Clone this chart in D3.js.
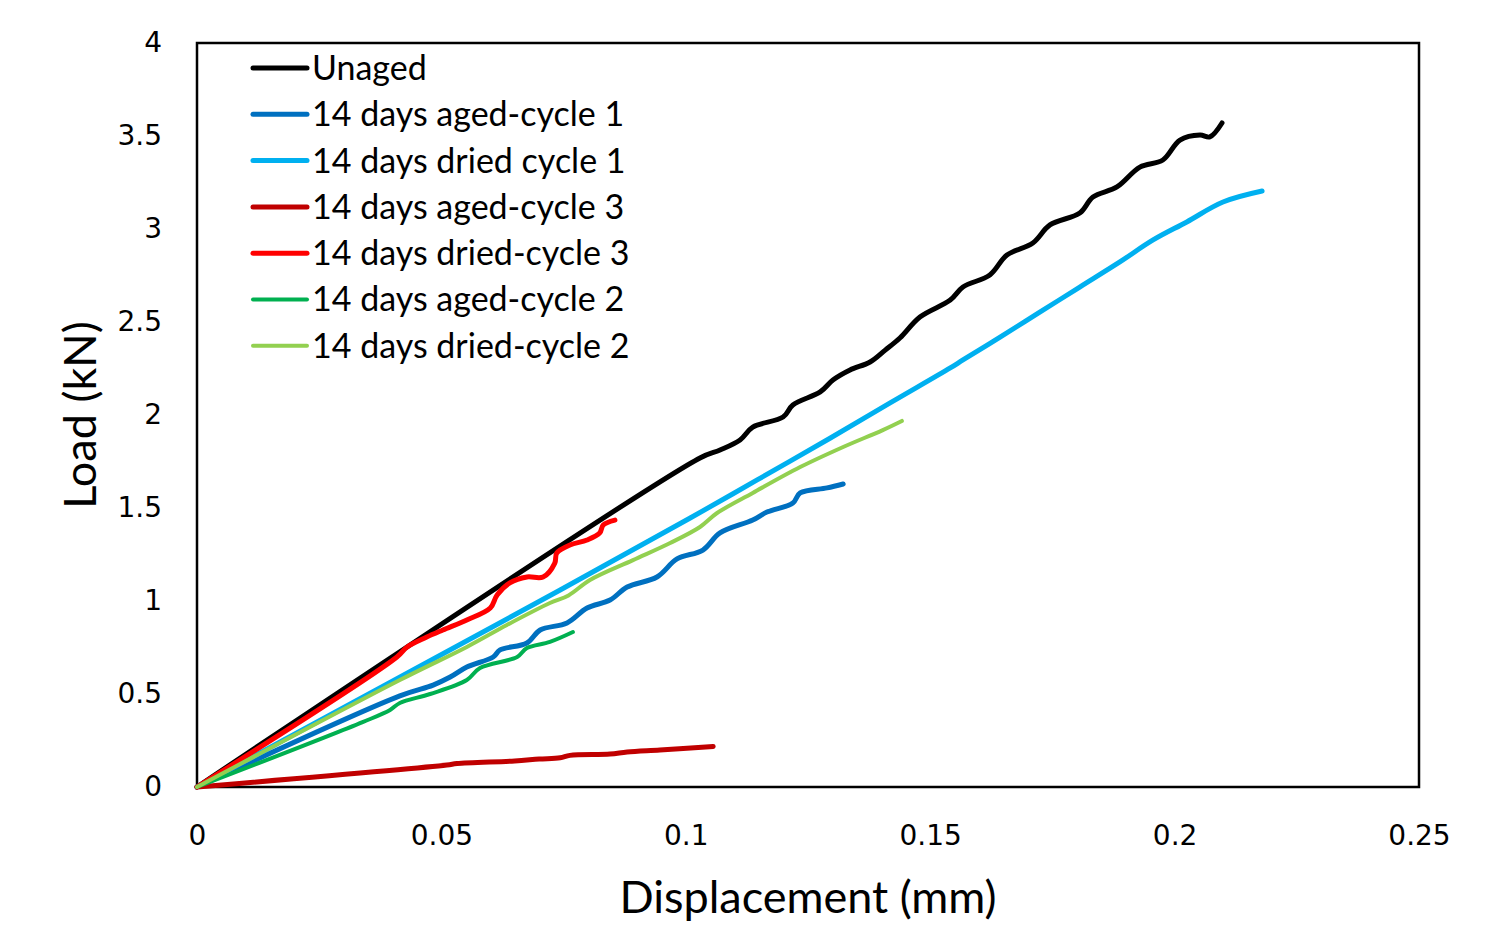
<!DOCTYPE html>
<html>
<head>
<meta charset="utf-8">
<script src="https://cdn.jsdelivr.net/npm/d3@7"></script>
<style>
  body { margin: 0; background: #fff; }
  svg { display: block; }
</style>
</head>
<body>
<div id="chart"></div>
<script>
// Chart size and margins (plot frame sits at 197..1419, 43..787)
const margin = { top: 43, right: 71, bottom: 149, left: 197 };
const totalWidth = 1490, totalHeight = 936;
const width = totalWidth - margin.left - margin.right;
const height = totalHeight - margin.top - margin.bottom;

// Tick values
const xTicks = [0, 0.05, 0.1, 0.15, 0.2, 0.25];
const yTicks = [0, 0.5, 1, 1.5, 2, 2.5, 3, 3.5, 4];

// Series data: displacement (mm) and load (kN)
const unagedX = [0, 0.1029, 0.1070, 0.1111, 0.1137, 0.1199, 0.1219, 0.1275, 0.1301, 0.1336, 0.1377, 0.1408, 0.1438, 0.1479, 0.1541, 0.1567, 0.1622, 0.1657, 0.1710, 0.1745, 0.1806, 0.1833, 0.1882, 0.1929, 0.1976, 0.2011, 0.2052, 0.2072, 0.2097];
const unagedY = [0, 1.769, 1.812, 1.866, 1.935, 1.989, 2.054, 2.124, 2.188, 2.242, 2.285, 2.349, 2.414, 2.527, 2.618, 2.688, 2.753, 2.860, 2.925, 3.022, 3.086, 3.172, 3.226, 3.333, 3.371, 3.478, 3.505, 3.495, 3.570];

const aged1X = [0, 0.0415, 0.0483, 0.0518, 0.0552, 0.0606, 0.0620, 0.0675, 0.0702, 0.0757, 0.0798, 0.0845, 0.0880, 0.0941, 0.0982, 0.1035, 0.1070, 0.1137, 0.1166, 0.1219, 0.1234, 0.1289, 0.1322];
const aged1Y = [0, 0.490, 0.548, 0.591, 0.645, 0.699, 0.737, 0.774, 0.844, 0.882, 0.962, 1.005, 1.075, 1.129, 1.226, 1.274, 1.366, 1.435, 1.478, 1.527, 1.581, 1.608, 1.629];

const dried1X = [0, 0.0743, 0.1009, 0.1146, 0.1295, 0.1418, 0.1541, 0.1567, 0.1643, 0.1725, 0.1806, 0.1888, 0.1956, 0.2025, 0.2099, 0.2179];
const dried1Y = [0, 1.059, 1.446, 1.651, 1.875, 2.065, 2.253, 2.296, 2.419, 2.554, 2.688, 2.823, 2.941, 3.038, 3.145, 3.204];

const aged3X = [0, 0.0511, 0.0532, 0.0650, 0.0700, 0.0743, 0.0763, 0.0845, 0.0880, 0.0947, 0.1056];
const aged3Y = [0, 0.118, 0.126, 0.140, 0.150, 0.157, 0.170, 0.177, 0.188, 0.199, 0.218];

const dried3X = [0, 0.0409, 0.0430, 0.0470, 0.0503, 0.0552, 0.0600, 0.0614, 0.0640, 0.0675, 0.0708, 0.0732, 0.0736, 0.0763, 0.0798, 0.0824, 0.0831, 0.0855];
const dried3Y = [0, 0.699, 0.753, 0.806, 0.844, 0.898, 0.962, 1.032, 1.097, 1.129, 1.129, 1.204, 1.258, 1.301, 1.328, 1.366, 1.409, 1.435];

const aged2X = [0, 0.0340, 0.0395, 0.0415, 0.0477, 0.0552, 0.0579, 0.0655, 0.0675, 0.0722, 0.0769];
const aged2Y = [0, 0.350, 0.414, 0.452, 0.500, 0.575, 0.640, 0.699, 0.747, 0.780, 0.833];

const dried2X = [0, 0.0415, 0.0552, 0.0634, 0.0722, 0.0760, 0.0804, 0.0892, 0.0968, 0.1029, 0.1064, 0.1137, 0.1234, 0.1322, 0.1403, 0.1442];
const dried2Y = [0, 0.575, 0.753, 0.871, 0.989, 1.030, 1.113, 1.220, 1.312, 1.398, 1.473, 1.581, 1.720, 1.828, 1.919, 1.968];

// Legend order, names and colours
const seriesNames = ["Unaged", "14 days aged-cycle 1", "14 days dried cycle 1", "14 days aged-cycle 3", "14 days dried-cycle 3", "14 days aged-cycle 2", "14 days dried-cycle 2"];
const seriesColors = ["#000000", "#0070C0", "#00B0F0", "#C00000", "#FF0000", "#00B050", "#92D050"];
const seriesXs = [unagedX, aged1X, dried1X, aged3X, dried3X, aged2X, dried2X];
const seriesYs = [unagedY, aged1Y, dried1Y, aged3Y, dried3Y, aged2Y, dried2Y];
const seriesWidths = [5, 5, 5, 5, 5, 4, 4];

const series = seriesNames.map((name, i) => ({
    name: name,
    color: seriesColors[i],
    strokeWidth: seriesWidths[i],
    values: seriesXs[i].map((x, j) => ({ x: x, y: seriesYs[i][j] }))
}));

const svg = d3.select("#chart")
    .append("svg")
    .attr("width", totalWidth)
    .attr("height", totalHeight);

const chart = svg.append("g")
    .attr("transform", `translate(${margin.left},${margin.top})`);

// Scales
const xScale = d3.scaleLinear().domain([0, 0.25]).range([0, width]);
const yScale = d3.scaleLinear().domain([0, 4]).range([height, 0]);

// X axis (labels only, no tick marks)
const xAxis = chart.append("g")
    .attr("transform", `translate(0,${height})`)
    .call(d3.axisBottom(xScale).tickValues(xTicks).tickSize(0).tickPadding(38).tickFormat(d => String(d)));
xAxis.select(".domain").remove();
xAxis.selectAll("text")
    .style("font-family", "'DejaVu Sans', Verdana, sans-serif")
    .style("font-size", "28px")
    .style("fill", "#000");

// Y axis
const yAxis = chart.append("g")
    .call(d3.axisLeft(yScale).tickValues(yTicks).tickSize(0).tickPadding(35).tickFormat(d => String(d)));
yAxis.select(".domain").remove();
yAxis.selectAll("text")
    .style("font-family", "'DejaVu Sans', Verdana, sans-serif")
    .style("font-size", "28px")
    .style("fill", "#000");

// Plot frame
chart.append("rect")
    .attr("x", 0)
    .attr("y", 0)
    .attr("width", width)
    .attr("height", height)
    .attr("fill", "none")
    .attr("stroke", "#000")
    .attr("stroke-width", 2.5);

// Lines
const line = d3.line()
    .x(d => xScale(d.x))
    .y(d => yScale(d.y))
    .curve(d3.curveCatmullRom.alpha(0.5));

chart.selectAll("path.series")
    .data(series)
    .enter()
    .append("path")
    .attr("class", "series")
    .attr("d", d => line(d.values))
    .attr("fill", "none")
    .attr("stroke", d => d.color)
    .attr("stroke-width", d => d.strokeWidth)
    .attr("stroke-linejoin", "round")
    .attr("stroke-linecap", "round");

// Legend
const legend = chart.selectAll("g.legend-item")
    .data(series)
    .enter()
    .append("g")
    .attr("class", "legend-item")
    .attr("transform", (d, i) => `translate(56, ${25 + i * 46.3})`);

legend.append("line")
    .attr("x1", 0)
    .attr("x2", 54)
    .attr("y1", 0)
    .attr("y2", 0)
    .attr("stroke", d => d.color)
    .attr("stroke-width", d => d.strokeWidth)
    .attr("stroke-linecap", "round");

legend.append("text")
    .attr("x", 59)
    .attr("y", 0)
    .attr("dy", "0.35em")
    .style("font-family", "Lato, 'Open Sans', sans-serif")
    .style("font-size", "34px")
    .style("fill", "#000")
    .text(d => d.name);

// Axis titles
svg.append("text")
    .attr("x", margin.left + width / 2)
    .attr("y", 897)
    .attr("dy", "0.35em")
    .attr("text-anchor", "middle")
    .style("font-family", "Lato, 'Open Sans', sans-serif")
    .style("font-size", "45px")
    .style("fill", "#000")
    .text("Displacement (mm)");

svg.append("text")
    .attr("transform", `translate(80, ${margin.top + height / 2}) rotate(-90)`)
    .attr("dy", "0.35em")
    .attr("text-anchor", "middle")
    .style("font-family", "Lato, 'Open Sans', sans-serif")
    .style("font-size", "45px")
    .style("fill", "#000")
    .text("Load (kN)");
</script>
</body>
</html>
